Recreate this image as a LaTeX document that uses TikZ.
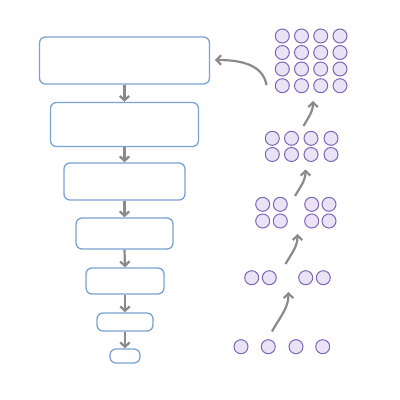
\documentclass[tikz,border=0pt]{standalone}
\usetikzlibrary{arrows.meta}
\definecolor{boxblue}{HTML}{7AA2D2}
\definecolor{arrgray}{HTML}{8A8A8A}
\definecolor{dotline}{HTML}{7C66B6}
\definecolor{dotfill}{HTML}{E9E3F5}
\tikzset{
  stage/.style={draw=boxblue, line width=1.3pt, rounded corners=6pt, fill=white, inner sep=0pt},
  flow/.style={draw=arrgray, line width=2.2pt, -{Straight Barb[length=4.5pt,width=9.5pt]}},
  dot/.style={circle, draw=dotline, fill=dotfill, line width=1pt, minimum size=14pt, inner sep=0pt},
}
\begin{document}
\begin{tikzpicture}[x=1pt,y=-1pt]
\useasboundingbox (0,0) rectangle (400,400);
% boxes
\node[stage, minimum width=170pt, minimum height=47pt] (b1) at (124.5,60.5) {};
\node[stage, minimum width=148pt, minimum height=44pt] (b2) at (124.5,124.5) {};
\node[stage, minimum width=121pt, minimum height=37pt] (b3) at (124.5,181.5) {};
\node[stage, minimum width=97pt, minimum height=31pt] (b4) at (124.5,233.5) {};
\node[stage, minimum width=78pt, minimum height=26pt] (b5) at (125,281) {};
\node[stage, minimum width=56pt, minimum height=18pt] (b6) at (125,322) {};
\node[stage, minimum width=30pt, minimum height=14pt] (b7) at (125,356) {};
\foreach \a/\b in {b1/b2,b2/b3,b3/b4,b4/b5,b5/b6,b6/b7}
  \draw[flow] (\a.south) -- (\b.north);
% level 1: 4 singles
\foreach \x [count=\i] in {241,268.3,296,322.7}
  \node[dot] (l1d\i) at (\x,346.7) {};
% level 2: pairs
\foreach \x [count=\i] in {251.7,269.3,305.7,323.3}
  \node[dot] (l2d\i) at (\x,277.7) {};
% level 3: 2x2 groups
\foreach \x [count=\i] in {262.7,280.3,311.7,329}
  \foreach \y [count=\j] in {204.3,221}
    \node[dot] (l3d\i\j) at (\x,\y) {};
% level 4: 2x4
\foreach \x [count=\i] in {272.3,291.5,311,331}
  \foreach \y [count=\j] in {138.3,154.5}
    \node[dot] (l4d\i\j) at (\x,\y) {};
% level 5: 4x4
\foreach \x [count=\i] in {282.3,301.5,320.7,340}
  \foreach \y [count=\j] in {36,52.5,69,85.7}
    \node[dot] (l5d\i\j) at (\x,\y) {};
% curved arrows
\coordinate (a1s) at (272,331.5);
\coordinate (a1e) at (288.5,292);
\draw[flow] (a1s) to[out=62,in=-90] (a1e);
\coordinate (a2s) at (285.5,264);
\coordinate (a2e) at (297.5,234);
\draw[flow] (a2s) to[out=60,in=-90] (a2e);
\coordinate (a3s) at (295,196);
\coordinate (a3e) at (305.5,169.5);
\draw[flow] (a3s) to[out=60,in=-90] (a3e);
\coordinate (a4s) at (303.5,126);
\coordinate (a4e) at (313,101);
\draw[flow] (a4s) to[out=60,in=-90] (a4e);
\coordinate (a5s) at (266.5,85);
\coordinate (a5e) at (215,60);
\draw[flow] (a5s) to[out=100,in=0] (a5e);
\end{tikzpicture}
\end{document}
